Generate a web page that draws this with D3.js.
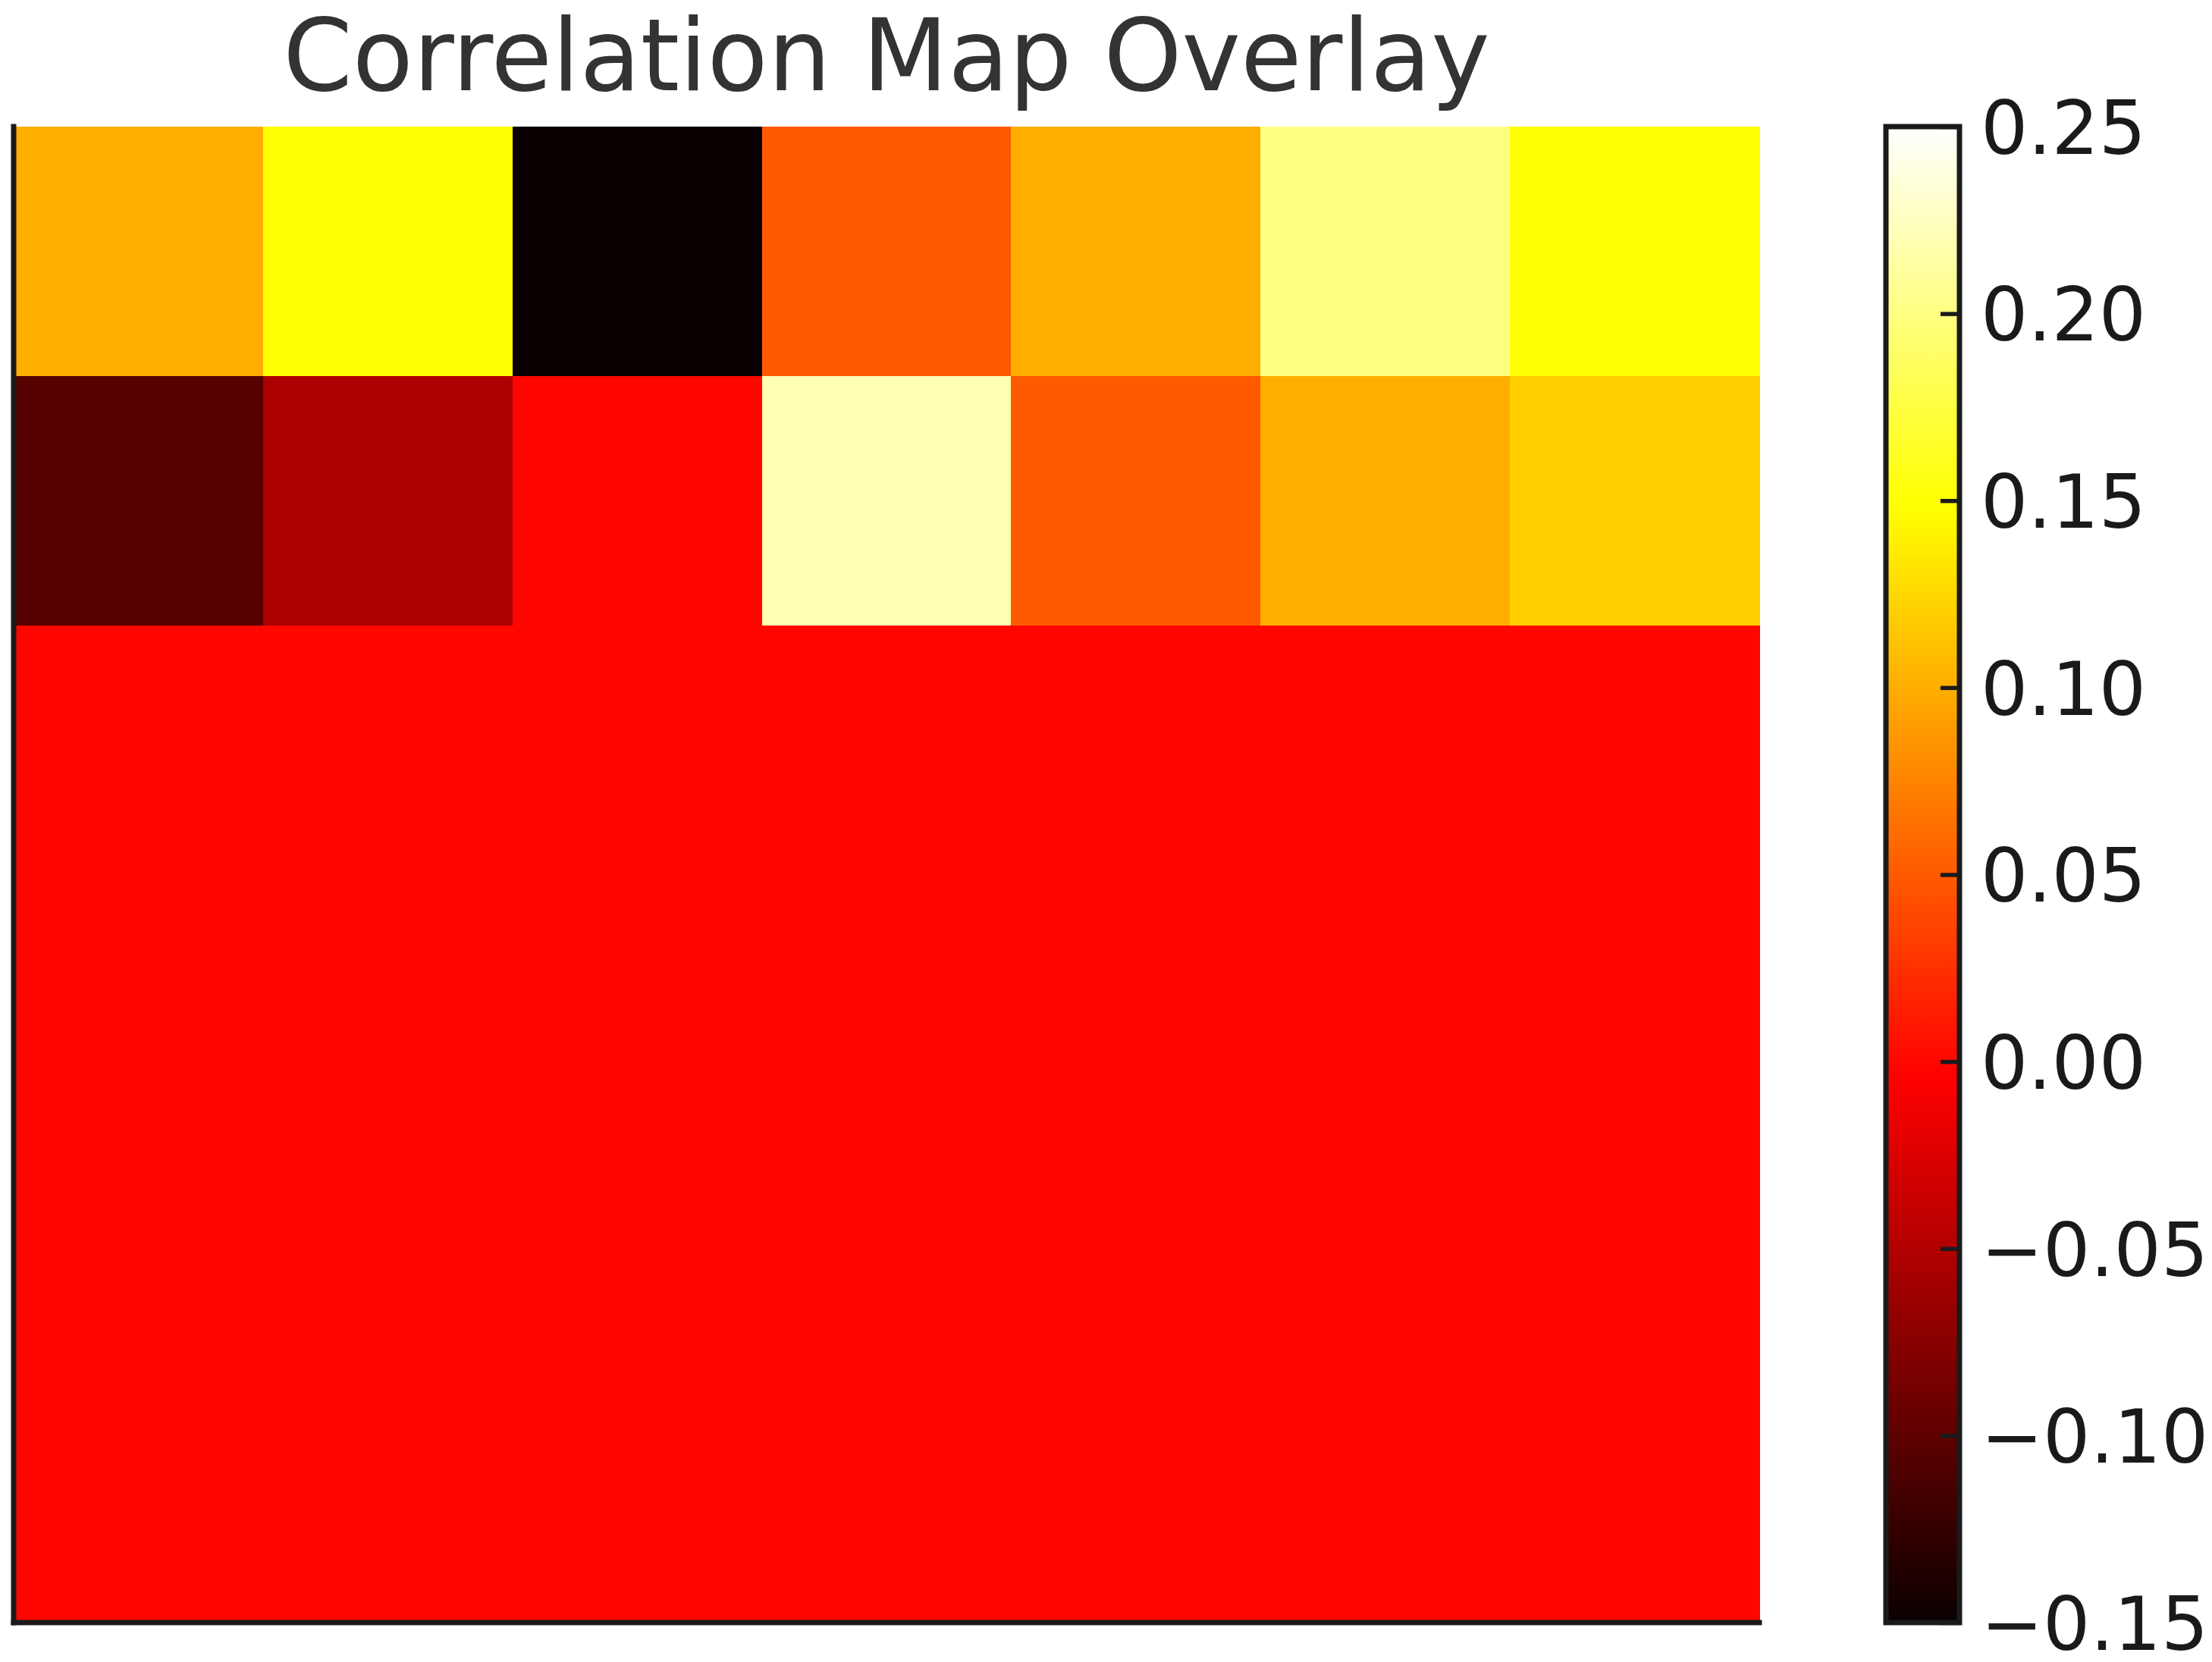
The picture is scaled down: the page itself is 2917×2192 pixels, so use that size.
<!DOCTYPE html>
<html lang="en">
<head>
    <meta charset="UTF-8">
    <title>Correlation Map Overlay</title>
    <script src="https://cdnjs.cloudflare.com/ajax/libs/d3/7.8.5/d3.min.js"></script>
    <style>
        body {
            margin: 0;
            background: #fff;
            font-family: "DejaVu Sans", sans-serif;
        }
        .title {
            font-size: 131px;
            fill: #333333;
        }
        .cbar text {
            font-size: 98px;
            fill: #1a1a1a;
        }
    </style>
</head>
<body>
    <div id="chart"></div>

    <script>
        // grid values (rows top to bottom)
        const rowLabels = [0, 1, 2, 3, 4, 5];
        const colLabels = [0, 1, 2, 3, 4, 5, 6];
        const row0 = [0.10, 0.15, -0.15, 0.05, 0.10, 0.20, 0.15];
        const row1 = [-0.105, -0.055, 0.00, 0.22, 0.05, 0.10, 0.12];
        const row2 = [0, 0, 0, 0, 0, 0, 0];
        const row3 = [0, 0, 0, 0, 0, 0, 0];
        const row4 = [0, 0, 0, 0, 0, 0, 0];
        const row5 = [0, 0, 0, 0, 0, 0, 0];
        const matrix = [row0, row1, row2, row3, row4, row5];

        const colorDomain = [-0.15, 0.25];
        const cbarTicks = [-0.15, -0.10, -0.05, 0.00, 0.05, 0.10, 0.15, 0.20, 0.25];

        const W = 2917, H = 2192;
        const plot = { left: 18, right: 2320, top: 167, bottom: 2140 };
        const cbar = { left: 2487, right: 2584 };
        const ink = "#1a1a1a";

        // matplotlib "hot" colormap
        function hot(t) {
            t = Math.max(0, Math.min(1, t));
            const a = 0.365079, b = 0.746032;
            const r = t < a ? 0.0416 + (1 - 0.0416) * t / a : 1;
            const g = t < a ? 0 : (t < b ? (t - a) / (b - a) : 1);
            const bl = t < b ? 0 : (t - b) / (1 - b);
            return d3.rgb(r * 255, g * 255, bl * 255).formatHex();
        }

        const color = d3.scaleSequential(hot).domain(colorDomain);

        const svg = d3.select("#chart")
            .append("svg")
            .attr("width", W)
            .attr("height", H);

        const x = d3.scaleBand()
            .domain(colLabels)
            .range([plot.left, plot.right]);

        const y = d3.scaleBand()
            .domain(rowLabels)
            .range([plot.top, plot.bottom]);

        const cells = [];
        matrix.forEach((row, i) => {
            row.forEach((v, j) => cells.push({ r: rowLabels[i], c: colLabels[j], v: v }));
        });

        svg.append("g")
            .selectAll("rect")
            .data(cells)
            .enter()
            .append("rect")
            .attr("x", d => x(d.c))
            .attr("y", d => y(d.r))
            .attr("width", x.bandwidth() + 0.5)
            .attr("height", y.bandwidth() + 0.5)
            .attr("shape-rendering", "crispEdges")
            .attr("fill", d => color(d.v));

        // left and bottom spines only
        svg.append("line")
            .attr("x1", plot.left).attr("x2", plot.left)
            .attr("y1", plot.top).attr("y2", plot.bottom)
            .attr("stroke", ink)
            .attr("stroke-width", 7)
            .attr("stroke-linecap", "square");

        svg.append("line")
            .attr("x1", plot.left).attr("x2", plot.right)
            .attr("y1", plot.bottom).attr("y2", plot.bottom)
            .attr("stroke", ink)
            .attr("stroke-width", 7)
            .attr("stroke-linecap", "square");

        svg.append("text")
            .attr("class", "title")
            .attr("x", (plot.left + plot.right) / 2)
            .attr("y", 119)
            .attr("text-anchor", "middle")
            .text("Correlation Map Overlay");

        // colorbar
        const cy = d3.scaleLinear()
            .domain(colorDomain)
            .range([plot.bottom, plot.top]);

        const grad = svg.append("defs")
            .append("linearGradient")
            .attr("id", "hotGrad")
            .attr("x1", 0).attr("y1", 1)
            .attr("x2", 0).attr("y2", 0);

        grad.selectAll("stop")
            .data(d3.range(0, 1.0001, 0.01))
            .enter()
            .append("stop")
            .attr("offset", d => d)
            .attr("stop-color", d => hot(d));

        svg.append("rect")
            .attr("x", cbar.left)
            .attr("y", cy(colorDomain[1]))
            .attr("width", cbar.right - cbar.left)
            .attr("height", cy(colorDomain[0]) - cy(colorDomain[1]))
            .attr("fill", "url(#hotGrad)");

        const cAxis = svg.append("g")
            .attr("class", "cbar")
            .attr("transform", `translate(${cbar.right},0)`)
            .call(d3.axisRight(cy)
                .tickValues(cbarTicks)
                .tickSize(-25)
                .tickPadding(28)
                .tickFormat(d => d3.format(".2f")(d).replace("-", "\u2212")));

        cAxis.select(".domain").remove();
        cAxis.selectAll(".tick line")
            .attr("stroke", ink)
            .attr("stroke-width", 5.5);
        cAxis.selectAll(".tick text")
            .attr("dy", "0.36em")
            .style("font-family", "'DejaVu Sans', sans-serif");

        svg.append("rect")
            .attr("x", cbar.left)
            .attr("y", cy(colorDomain[1]))
            .attr("width", cbar.right - cbar.left)
            .attr("height", cy(colorDomain[0]) - cy(colorDomain[1]))
            .attr("fill", "none")
            .attr("stroke", ink)
            .attr("stroke-width", 7);
    </script>
</body>
</html>
